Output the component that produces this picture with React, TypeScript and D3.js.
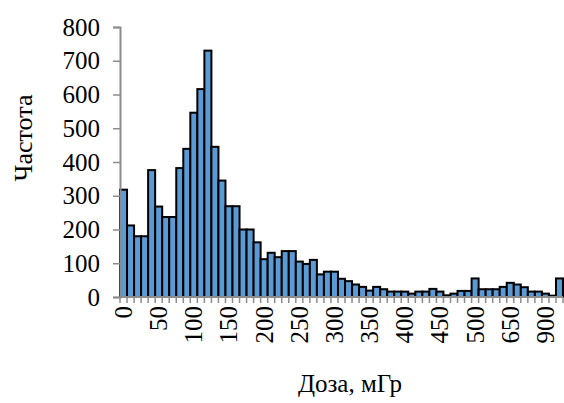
import { useEffect, useRef } from "react";
import * as d3 from "d3";

// dose categories (mGy) and counts
const doses = [
  0, 10, 20, 30, 40, 50, 60, 70, 80, 90,
  100, 110, 120, 130, 140, 150, 160, 170, 180, 190,
  200, 210, 220, 230, 240, 250, 260, 270, 280, 290,
  300, 310, 320, 330, 340, 350, 360, 370, 380, 390,
  400, 410, 420, 430, 440, 450, 460, 470, 480, 490,
  500, 530, 560, 590, 620, 650, 700, 750, 800, 850,
  900, 950, 1000,
];
const counts = [
  318, 212, 180, 180, 376, 268, 237, 237, 382, 439,
  546, 616, 730, 445, 345, 269, 269, 200, 200, 162,
  112, 131, 118, 136, 136, 105, 98, 110, 67, 75,
  75, 54, 47, 37, 30, 19, 30, 23, 16, 16,
  16, 10, 16, 16, 24, 16, 5, 10, 18, 18,
  55, 23, 23, 23, 30, 42, 37, 29, 16, 16,
  10, 4, 55,
];
const yTicks = [0, 100, 200, 300, 400, 500, 600, 700, 800];
const labelEvery = 5;

const yTitle = "Частота";
const xTitle = "Доза, мГр";

export default function App() {
  const svgRef = useRef<SVGSVGElement>(null);

  useEffect(() => {
    const w = 564;
    const h = 403;
    const left = 120;
    const right = 563;
    const top = 27;
    const bottom = 297;
    const font = "'Liberation Serif', 'Times New Roman', serif";
    const fs = 25;

    const svg = d3.select(svgRef.current);
    svg.selectAll("*").remove();
    svg.attr("width", w).attr("height", h);

    const keys = doses.map((d, i) => String(i));
    const x = d3.scaleBand().domain(keys).range([left, right]).padding(0);
    const y = d3.scaleLinear().domain([0, 800]).range([bottom, top]);

    // bars
    svg
      .append("g")
      .selectAll("rect")
      .data(counts)
      .join("rect")
      .attr("x", (d, i) => x(String(i)))
      .attr("y", (d) => y(d))
      .attr("width", x.bandwidth())
      .attr("height", (d) => bottom - y(d))
      .attr("fill", "#5b9bd5")
      .attr("stroke", "#000")
      .attr("stroke-width", 2);

    // y axis
    const yAxis = d3.axisLeft(y).tickValues(yTicks).tickSize(7).tickPadding(13);
    const gy = svg.append("g").attr("transform", `translate(${left},0)`).call(yAxis);
    gy.select(".domain").attr("stroke", "#8c8c8c").attr("stroke-width", 2);
    gy.selectAll(".tick line").attr("stroke", "#8c8c8c").attr("stroke-width", 1.5);
    gy.selectAll(".tick text")
      .attr("font-family", font)
      .attr("font-size", fs)
      .attr("fill", "#000");

    // x axis: tick at every category boundary, label every 5th category
    const xg = svg.append("g");
    const bounds = d3.range(doses.length + 1).map((i) => left + i * x.bandwidth());
    xg.selectAll("line.tk")
      .data(bounds)
      .join("line")
      .attr("x1", (d) => d)
      .attr("x2", (d) => d)
      .attr("y1", bottom)
      .attr("y2", bottom + 6)
      .attr("stroke", "#8c8c8c")
      .attr("stroke-width", 1.5);
    xg.append("line")
      .attr("x1", left)
      .attr("x2", right)
      .attr("y1", bottom)
      .attr("y2", bottom)
      .attr("stroke", "#8c8c8c")
      .attr("stroke-width", 2);
    xg.selectAll("text")
      .data(doses.filter((d, i) => i % labelEvery === 0))
      .join("text")
      .attr("transform", (d, j) => {
        const cx = (x(String(j * labelEvery)) as number) + x.bandwidth() / 2;
        return `translate(${cx},${bottom + 9}) rotate(-90)`;
      })
      .attr("text-anchor", "end")
      .attr("dominant-baseline", "central")
      .attr("font-family", font)
      .attr("font-size", fs)
      .text((d) => d);

    // titles
    svg
      .append("text")
      .attr("transform", `translate(23,138) rotate(-90)`)
      .attr("text-anchor", "middle")
      .attr("dominant-baseline", "central")
      .attr("font-family", font)
      .attr("font-size", 26)
      .text(yTitle);
    svg
      .append("text")
      .attr("x", 350)
      .attr("y", 392)
      .attr("text-anchor", "middle")
      .attr("font-family", font)
      .attr("font-size", fs)
      .text(xTitle);
  }, []);

  return (
    <svg
      ref={svgRef}
      style={{ position: "absolute", left: 0, top: 0, display: "block", background: "#fff" }}
    ></svg>
  );
}
